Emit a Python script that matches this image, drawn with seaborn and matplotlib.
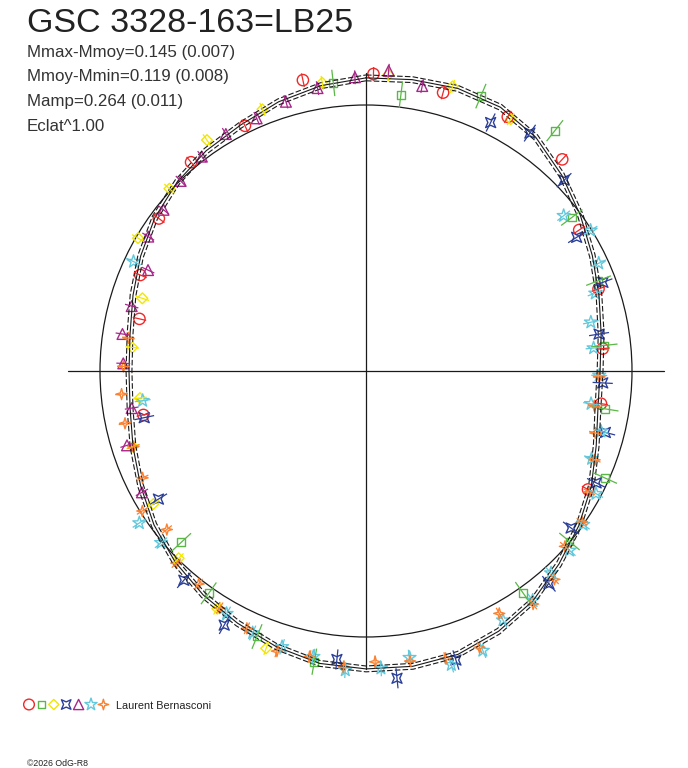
import numpy as np
import pandas as pd
import seaborn as sns
import matplotlib.pyplot as plt
from matplotlib.collections import LineCollection
from matplotlib.patches import Circle
from matplotlib.path import Path

# textes du graphique
title = "GSC 3328-163=LB25"
stats = ["Mmax-Mmoy=0.145 (0.007)", "Mmoy-Mmin=0.119 (0.008)",
         "Mamp=0.264 (0.011)", "Eclat^1.00"]
observer = "Laurent Bernasconi"
credit = "\u00a92026 OdG-R8"

# courbe moyenne (phase, flux relatif)
curve_phase = [0.000, 0.025, 0.050, 0.075, 0.100, 0.125, 0.150, 0.175, 0.200, 0.225,
               0.250, 0.275, 0.300, 0.325, 0.350, 0.375, 0.400, 0.425, 0.450, 0.475,
               0.500, 0.525, 0.550, 0.575, 0.600, 0.625, 0.650, 0.675, 0.700, 0.725,
               0.750, 0.775, 0.800, 0.825, 0.850, 0.875, 0.900, 0.925, 0.950, 0.975, 1.000]
curve_flux = [1.102, 1.109, 1.117, 1.113, 1.086, 1.041, 0.996, 0.955, 0.921, 0.895,
              0.880, 0.883, 0.910, 0.951, 0.989, 1.026, 1.068, 1.098, 1.120, 1.124,
              1.120, 1.113, 1.090, 1.064, 1.041, 1.015, 0.985, 0.951, 0.921, 0.898,
              0.891, 0.898, 0.921, 0.951, 0.981, 1.004, 1.023, 1.038, 1.064, 1.086, 1.102]
curve_sigma = 0.011

# mesures par série
red_phase = [0.004, 0.043, 0.081, 0.119, 0.157, 0.196, 0.235, 0.272, 0.328, 0.719,
             0.786, 0.814, 0.851, 0.889, 0.927, 0.966]
red_flux = [1.117, 1.086, 1.094, 1.085, 0.961, 0.927, 0.894, 0.892, 0.946, 0.853,
            0.874, 0.922, 0.967, 1.024, 1.028, 1.119]

green_phase = [0.020, 0.063, 0.106, 0.148, 0.191, 0.233, 0.275, 0.317, 0.361, 0.402,
               0.528, 0.562, 0.598, 0.631, 0.982]
green_flux = [1.047, 1.120, 1.149, 0.965, 0.938, 0.901, 0.911, 0.984, 0.998, 1.022,
              1.110, 1.079, 1.024, 0.947, 1.090]

yellow_phase = [0.012, 0.047, 0.083, 0.555, 0.589, 0.625, 0.661, 0.700, 0.731, 0.766,
                0.800, 0.834, 0.869, 0.904, 0.940, 0.976]
yellow_flux = [1.117, 1.118, 1.092, 1.108, 1.054, 0.996, 0.943, 0.921, 0.856, 0.883,
               0.884, 0.992, 1.008, 1.054, 1.058, 1.096]

blue_phase = [0.074, 0.096, 0.128, 0.160, 0.193, 0.225, 0.258, 0.290, 0.322, 0.354,
              0.387, 0.452, 0.484, 0.516, 0.581, 0.614, 0.662, 0.717]
blue_flux = [1.045, 1.086, 1.034, 0.938, 0.951, 0.887, 0.891, 0.929, 0.962, 0.971,
             1.055, 1.138, 1.161, 1.090, 1.094, 1.043, 0.917, 0.852]

purple_phase = [0.012, 0.031, 0.671, 0.702, 0.725, 0.755, 0.774, 0.793, 0.819, 0.838,
                0.857, 0.877, 0.896, 0.915, 0.935, 0.954, 0.973, 0.994]
purple_flux = [1.132, 1.092, 0.958, 0.941, 0.892, 0.913, 0.926, 0.914, 0.903, 0.962,
               0.973, 0.998, 1.015, 1.035, 1.035, 1.056, 1.079, 1.105]

cyan_phase = [0.144, 0.161, 0.181, 0.198, 0.216, 0.234, 0.253, 0.273, 0.290, 0.309,
              0.328, 0.348, 0.365, 0.382, 0.400, 0.420, 0.437, 0.455, 0.476, 0.492,
              0.511, 0.529, 0.547, 0.565, 0.583, 0.639, 0.656, 0.729, 0.820]
cyan_flux = [0.945, 0.996, 0.964, 0.910, 0.865, 0.860, 0.877, 0.855, 0.912, 0.910,
             0.980, 1.000, 1.020, 1.030, 1.066, 1.069, 1.139, 1.150, 1.090, 1.119,
             1.127, 1.092, 1.084, 1.073, 1.052, 1.005, 1.026, 0.847, 0.966]

orange_phase = [0.254, 0.274, 0.292, 0.309, 0.329, 0.347, 0.365, 0.383, 0.401, 0.420,
                0.438, 0.457, 0.476, 0.495, 0.512, 0.531, 0.549, 0.569, 0.588, 0.606,
                0.624, 0.643, 0.661, 0.679, 0.700, 0.716, 0.735, 0.753, 0.772]
orange_flux = [0.877, 0.868, 0.893, 0.922, 0.955, 0.990, 0.997, 1.056, 1.078, 1.040,
               1.123, 1.121, 1.103, 1.094, 1.115, 1.094, 1.105, 1.066, 1.047, 1.018,
               1.015, 0.957, 0.992, 0.931, 0.919, 0.927, 0.923, 0.912, 0.902]

# incertitudes (demi-barre, flux relatif)
red_err, green_err, yellow_err, blue_err = 0.026, 0.050, 0.026, 0.038
purple_err, cyan_err, orange_err = 0.026, 0.030, 0.024

# marqueurs personnalisés
star4 = Path([(0, 1), (0.22, 0.22), (1, 0), (0.22, -0.22), (0, -1), (-0.22, -0.22),
              (-1, 0), (-0.22, 0.22), (0, 1)], closed=True)
pinch = Path([(1, 1), (0, 0.55), (-1, 1), (-0.55, 0), (-1, -1), (0, -0.55),
              (1, -1), (0.55, 0), (1, 1)], closed=True)

series = [
    (red_phase, red_flux, red_err, "#f02828", "o", 66),
    (green_phase, green_flux, green_err, "#5ab846", "s", 32),
    (yellow_phase, yellow_flux, yellow_err, "#f2e600", "D", 30),
    (blue_phase, blue_flux, blue_err, "#2b3f99", pinch, 52),
    (purple_phase, purple_flux, purple_err, "#a8288a", "^", 60),
    (cyan_phase, cyan_flux, cyan_err, "#62c8dc", "*", 95),
    (orange_phase, orange_flux, orange_err, "#fa8232", star4, 64),
]

PX = 266.0  # pixels pour un flux relatif de 1
CX, CY = 366, 371


def polaire(phase, flux):
    a = 2 * np.pi * np.asarray(phase)
    f = np.asarray(flux)
    return f * np.sin(a), f * np.cos(a)


sns.set_theme(style="white")
plt.rcParams["font.family"] = ["Liberation Sans", "DejaVu Sans"]

fig = plt.figure(figsize=(6.88, 7.68), dpi=100)
ax = fig.add_axes([0, 0, 1, 1])
ax.set_xlim(-CX / PX, (688 - CX) / PX)
ax.set_ylim(-(768 - CY) / PX, CY / PX)
ax.axis("off")

# axes et cercle de référence
L = 1.12
ax.plot([-L, L], [0, 0], color="#1a1a1a", lw=0.9)
ax.plot([0, 0], [-L, L], color="#1a1a1a", lw=0.9)
ax.add_patch(Circle((0, 0), 1.0, fill=False, ec="#1a1a1a", lw=0.9))

# courbe moyenne et enveloppe
cf = np.array(curve_flux)
for off, ls in [(0, "-"), (-curve_sigma, (0, (5, 2))), (curve_sigma, (0, (5, 2)))]:
    x, y = polaire(curve_phase, cf + off)
    ax.plot(x, y, color="#1a1a1a", lw=0.8, ls=ls)

# mesures avec barres d'erreur radiales
for ph, fl, err, col, mk, s in series:
    fl = np.array(fl)
    x0, y0 = polaire(ph, fl - err)
    x1, y1 = polaire(ph, fl + err)
    segs = [[(a, b), (c, d)] for a, b, c, d in zip(x0, y0, x1, y1)]
    ax.add_collection(LineCollection(segs, colors=col, linewidths=0.9))
    x, y = polaire(ph, fl)
    sns.scatterplot(x=x, y=y, ax=ax, marker=mk, s=s, color=col,
                    facecolor="none", edgecolor=col, linewidth=1.0, legend=False)

# calque en pixels pour les textes et la légende
lax = fig.add_axes([0, 0, 1, 1], facecolor="none")
lax.set_xlim(0, 688)
lax.set_ylim(768, 0)
lax.axis("off")

lax.text(27, 32, title, fontsize=24.5, color="#222222", va="baseline", ha="left")
for i, t in enumerate(stats):
    lax.text(27, 56.5 + 24.7 * i, t, fontsize=12.2, color="#333333",
             va="baseline", ha="left")

for i, (ph, fl, err, col, mk, s) in enumerate(series):
    lax.scatter([29 + 12.4 * i], [704.5], marker=mk, s=s * 0.9,
                facecolor="none", edgecolor=col, linewidth=1.0)
lax.text(116, 709, observer, fontsize=7.8, color="#222222", va="baseline")
lax.text(27, 766, credit, fontsize=6.3, color="#222222", va="baseline")

fig.savefig("out.png", dpi=100)
